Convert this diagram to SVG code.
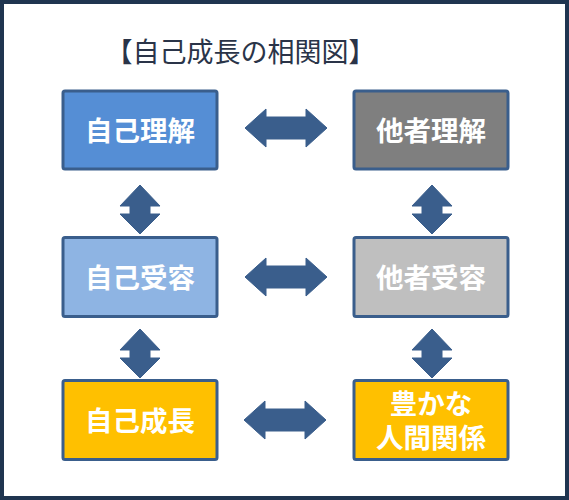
<svg xmlns="http://www.w3.org/2000/svg" width="569" height="500" viewBox="0 0 569 500">
<style>
.box{stroke:#3a5e8c;stroke-width:3}
.lbl{font-family:"Noto Sans CJK JP","Noto Sans CJK SC",sans-serif;font-weight:bold;font-size:27.5px;fill:#ffffff;text-anchor:middle}
.title{font-family:"Noto Sans CJK JP","Noto Sans CJK SC",sans-serif;font-size:27px;fill:#2a3448;text-anchor:middle}
.arr{fill:#3a5e8c;stroke:#3a5e8c;stroke-width:1;stroke-linejoin:round}
</style>
<defs>
<path id="ha" d="M0,0 L21,-19 L21,-11 L61,-11 L61,-19 L82,0 L61,19 L61,11 L21,11 L21,19 Z"/>
<path id="va" d="M0,0 L20,21 L10,21 L10,29 L20,29 L0,49 L-20,29 L-10,29 L-10,21 L-20,21 Z"/>
</defs>
<rect x="0" y="0" width="569" height="500" fill="#ffffff"/>
<rect x="2" y="2" width="565" height="496" fill="#ffffff" stroke="#1f3550" stroke-width="4"/>
<text class="title" x="240.5" y="62">【自己成長の相関図】</text>
<g id="connectors" class="arr">
<use href="#ha" x="245" y="128"/>
<use href="#ha" x="245" y="277"/>
<use href="#ha" x="244" y="420"/>
<use href="#va" x="140" y="185"/>
<use href="#va" x="140" y="329"/>
<use href="#va" x="432" y="185"/>
<use href="#va" x="432" y="329"/>
</g>
<g id="n1"><rect class="box" x="63" y="91" width="154" height="78" rx="2" fill="#558ed5"/><text class="lbl" x="140" y="141">自己理解</text></g>
<g id="n2"><rect class="box" x="354" y="91" width="154" height="78" rx="2" fill="#7f7f7f"/><text class="lbl" x="431" y="141">他者理解</text></g>
<g id="n3"><rect class="box" x="63" y="237.5" width="154" height="79" rx="2" fill="#8eb4e3"/><text class="lbl" x="140" y="288">自己受容</text></g>
<g id="n4"><rect class="box" x="354" y="237.5" width="154" height="79" rx="2" fill="#bfbfbf"/><text class="lbl" x="431" y="288">他者受容</text></g>
<g id="n5"><rect class="box" x="63" y="380.5" width="154" height="79" rx="2" fill="#ffc000"/><text class="lbl" x="140" y="431">自己成長</text></g>
<g id="n6"><rect class="box" x="354" y="380.5" width="154" height="79" rx="2" fill="#ffc000"/><text class="lbl" x="431" y="414">豊かな</text><text class="lbl" x="431" y="448">人間関係</text></g>
</svg>
